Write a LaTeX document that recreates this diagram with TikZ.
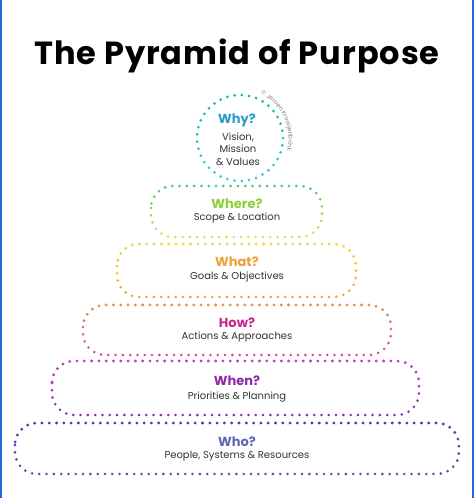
\documentclass[tikz,border=0pt]{standalone}
\usepackage{fontspec}
\setmainfont{Poppins}
\usetikzlibrary{fadings,decorations.text}
\definecolor{edgeblue}{HTML}{1A6FD6}
\definecolor{txt}{HTML}{333333}
\definecolor{whyT}{HTML}{2DB3A6}
\definecolor{whyB}{HTML}{22C4E2}
\definecolor{whyL}{HTML}{2A9CC8}
\definecolor{whereT}{HTML}{3CC98E}
\definecolor{whereB}{HTML}{DDE83A}
\definecolor{whereL}{HTML}{8CCF3A}
\definecolor{whatT}{HTML}{EFE53A}
\definecolor{whatB}{HTML}{F0A030}
\definecolor{whatL}{HTML}{E8A435}
\definecolor{howT}{HTML}{F0A030}
\definecolor{howB}{HTML}{D240A8}
\definecolor{howL}{HTML}{C8268A}
\definecolor{whenT}{HTML}{D043BE}
\definecolor{whenB}{HTML}{7E2CB0}
\definecolor{whenL}{HTML}{8E2AA8}
\definecolor{whoT}{HTML}{5A38A4}
\definecolor{whoB}{HTML}{4E4EA8}
\definecolor{whoL}{HTML}{5F67B2}
\tikzfading[name=topopaque, top color=transparent!0, bottom color=transparent!100]
\begin{document}
\begin{tikzpicture}[x=1pt,y=1pt,
  dots/.style={line width=2.8pt, line cap=round, dash pattern=on 0pt off 7.3pt},
  ring/.style 2 args={dots, draw=#2, postaction={draw=#1, path fading=topopaque}},
  head/.style={font=\fontsize{13}{15}\selectfont\bfseries, inner sep=0pt},
  sub/.style={font=\fontsize{10}{12.5}\selectfont, text=txt, inner sep=0pt, align=center},
]
\useasboundingbox (0,0) rectangle (474,498);
\fill[white] (0,0) rectangle (474,498);
\fill[edgeblue] (0,0) rectangle (2,498);
\fill[edgeblue] (471.5,0) rectangle (474,498);
\node[font=\fontsize{32}{36}\selectfont\bfseries\addfontfeatures{LetterSpace=3}, anchor=base, inner sep=0pt] (title) at (237,433) {The Pyramid of Purpose};
% circle
\draw[ring={whyT}{whyB}] (240,360) circle[radius=43];
\path[decorate, decoration={text along path, text={|\fontsize{6}{7}\selectfont|© Jeroen Kraaijenbrink}, text align=center, text color=gray}] (240,360) ++(80:48.5) arc[start angle=80, end angle=-30, radius=48.5];
% boxes
\draw[ring={whereT}{whereB}, rounded corners=22pt] (151,312) rectangle (322,261);
\draw[ring={whatT}{whatB}, rounded corners=22pt] (117,254) rectangle (356,201);
\draw[ring={howT}{howB}, rounded corners=22pt] (83,193) rectangle (391,143);
\draw[ring={whenT}{whenB}, rounded corners=22pt] (52,137) rectangle (419,83);
\draw[ring={whoT}{whoB}, rounded corners=22pt] (15,75) rectangle (459,24);
% labels
\node[head, text=whyL] (why) at (237,378) {Why?};
\node[sub] (whyt) at (238,349) {Vision,\\Mission\\\& Values};
\node[head, text=whereL] (where) at (237,294) {Where?};
\node[sub] (wheret) at (237,280) {Scope \& Location};
\node[head, text=whatL] (what) at (237,236) {What?};
\node[sub] (whatt) at (237,221) {Goals \& Objectives};
\node[head, text=howL] (how) at (237,175) {How?};
\node[sub] (howt) at (237,161) {Actions \& Approaches};
\node[head, text=whenL] (when) at (237,117) {When?};
\node[sub] (whent) at (237,101) {Priorities \& Planning};
\node[head, text=whoL] (who) at (237,56) {Who?};
\node[sub] (whot) at (237,42) {People, Systems \& Resources};
\end{tikzpicture}
\end{document}
